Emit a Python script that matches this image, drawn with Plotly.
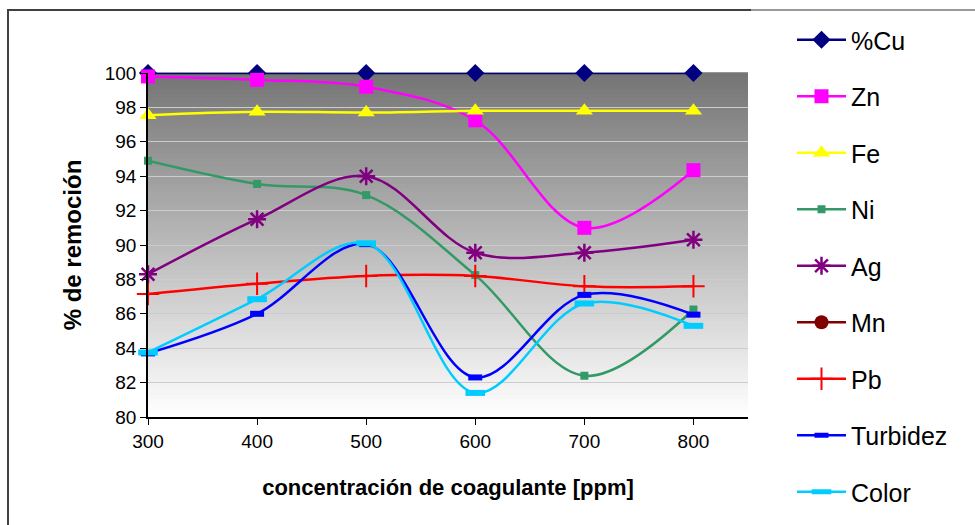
import plotly.graph_objects as go

conc = [300, 400, 500, 600, 700, 800]
cu = [100, 100, 100, 100, 100, 100]
zn = [99.8, 99.6, 99.2, 97.25, 91.0, 94.35]
fe = [97.55, 97.75, 97.7, 97.8, 97.8, 97.8]
ni = [94.9, 93.55, 92.9, 88.25, 82.4, 86.25]
ag = [88.3, 91.5, 94.0, 89.55, 89.55, 90.3]
mn = [None, None, None, None, None, None]
pb = [87.15, 87.75, 88.2, 88.2, 87.6, 87.6]
turbidez = [83.7, 86.0, 90.05, 82.3, 87.1, 85.95]
color = [83.75, 86.85, 90.1, 81.4, 86.6, 85.3]

x_ticks = [300, 400, 500, 600, 700, 800]
y_ticks = list(range(80, 101, 2))

series = [
    ("%Cu", cu, "#000080", dict(symbol="diamond", size=14)),
    ("Zn", zn, "#FF00FF", dict(symbol="square", size=14)),
    ("Fe", fe, "#FFFF00", dict(symbol="triangle-up", size=15)),
    ("Ni", ni, "#339966", dict(symbol="square", size=8)),
    ("Ag", ag, "#800080", dict(symbol="asterisk", size=15, line=dict(color="#800080", width=2.5))),
    ("Mn", mn, "#800000", dict(symbol="circle", size=14)),
    ("Pb", pb, "#FF0000", dict(symbol="cross-thin", size=16, line=dict(color="#FF0000", width=2))),
    ("Turbidez", turbidez, "#0000FF", dict(symbol="line-ew", size=10, line=dict(color="#0000FF", width=6))),
    ("Color", color, "#00CCFF", dict(symbol="line-ew", size=14, line=dict(color="#00CCFF", width=6))),
]

fig = go.Figure()
for name, vals, col, mk in series:
    marker = dict(color=col, **mk)
    fig.add_trace(go.Scatter(
        x=conc, y=vals, name=name, mode="lines+markers",
        line=dict(color=col, width=2.5, shape="spline", smoothing=1.0),
        marker=marker, legendgroup=name, cliponaxis=False,
    ))

# gradient background bands
shapes = []
n = 80
top = (0x74, 0x74, 0x74)
bot = (0xFF, 0xFF, 0xFF)
for i in range(n):
    t = (i + 0.5) / n
    c = tuple(int(round(top[k] + (bot[k] - top[k]) * t)) for k in range(3))
    y1 = 1 - i / n
    y0 = 1 - (i + 1) / n
    shapes.append(dict(type="rect", xref="paper", yref="paper", x0=0, x1=1,
                       y0=y0, y1=y1 + 0.002, fillcolor="rgb(%d,%d,%d)" % c,
                       line=dict(width=0), layer="below"))

# outer chart border
shapes.append(dict(type="rect", xref="paper", yref="paper",
                   x0=(8 - 148) / 600, x1=(990 - 148) / 600,
                   y0=(417 - 540) / 344, y1=1 + (73 - 10) / 344,
                   line=dict(color="#404040", width=2), layer="above"))
shapes.append(dict(type="line", xref="paper", yref="paper",
                   x0=(751 - 148) / 600, x1=(990 - 148) / 600,
                   y0=1 + (73 - 10) / 344, y1=1 + (73 - 10) / 344,
                   line=dict(color="#9a9a9a", width=2), layer="above"))

fig.update_layout(
    width=975, height=525,
    margin=dict(l=148, r=227, t=73, b=108),
    paper_bgcolor="white", plot_bgcolor="white",
    font=dict(family="Liberation Sans, Arial, sans-serif", color="black"),
    shapes=shapes,
    showlegend=True,
    legend=dict(x=(792 - 148) / 600, xanchor="left", y=1 + (73 - 17) / 344, yanchor="top",
                traceorder="grouped", tracegroupgap=21, font=dict(size=25),
                bgcolor="rgba(0,0,0,0)", itemwidth=49, maxheight=1000),
    xaxis=dict(range=[300, 850], tickvals=x_ticks, ticks="outside", ticklen=6,
               tickcolor="black", showline=True, linecolor="black", linewidth=1.5,
               showgrid=False, zeroline=False, tickfont=dict(size=19),
               title=dict(text="<b>concentración de coagulante [ppm]</b>", font=dict(size=22), standoff=29)),
    yaxis=dict(range=[80, 100], tickvals=y_ticks, ticks="outside", ticklen=6,
               tickcolor="black", showline=True, linecolor="black", linewidth=1.5,
               showgrid=True, gridcolor="#cccccc", gridwidth=1, zeroline=False,
               tickfont=dict(size=19),
               title=dict(text="<b>% de remoción</b>", font=dict(size=24), standoff=16)),
)

fig.write_html("out.html")
